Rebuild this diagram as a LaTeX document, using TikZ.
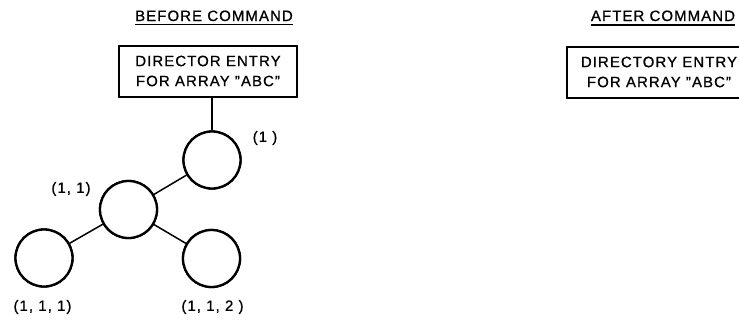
\documentclass[tikz,border=0pt]{standalone}
\usepackage{fontspec}
\setmainfont{Liberation Sans}[LetterSpace=7,FakeBold=0.8]
\usetikzlibrary{calc}
\begin{document}
\begin{tikzpicture}[x=1pt,y=-1pt,
  lbl/.style={inner sep=0pt,font=\fontsize{15}{15}\selectfont},
  ttl/.style={lbl,anchor=base},
  entry/.style={draw,line width=2pt,rectangle,inner sep=0pt,
    minimum height=51pt,align=center,
    font=\fontsize{15}{20}\selectfont},
  elem/.style={draw,circle,line width=2.3pt,minimum size=57pt,inner sep=0pt},
  link/.style={line width=1.5pt},
  uline/.style={line width=1.6pt}]
\clip (0,0) rectangle (739,324);

% left half: tree before the command
\node[ttl] (btitle) at (214,21) {BEFORE COMMAND};
\draw[uline] ($(btitle.base west)+(0,3.5)$) -- ($(btitle.base east)+(0,3.5)$);
\node[entry,minimum width=178pt] (bbox) at (208,71)
  {DIRECTOR ENTRY\\FOR ARRAY "ABC"};

\node[elem] (c1)   at (212,160) {};
\node[elem] (c11)  at (128.5,209.5) {};
\node[elem] (c111) at (44,258) {};
\node[elem] (c112) at (211.5,258.5) {};

\draw[link] (c1.north) -- (c1.north |- bbox.south);
\draw[link] (c11) -- (c1);
\draw[link] (c11) -- (c111);
\draw[link] (c11) -- (c112);
% redraw circles on top of the centre-to-centre links
\foreach \n in {c1,c11,c111,c112}
  \fill[white,draw=black,line width=2.3pt] (\n.center) circle (28.5);

\node[lbl] (l1)   at (265,138) {(1 )};
\node[lbl] (l11)  at (71,189) {(1, 1)};
\node[lbl] (l111) at (42.5,307) {(1, 1, 1)};
\node[lbl] (l112) at (212.5,307) {(1, 1, 2 )};

% right half: directory entry after the command
\node[ttl] (atitle) at (663,21) {AFTER COMMAND};
\draw[uline] ($(atitle.base west)+(0,4)$) -- ($(atitle.base east)+(0,4)$);
\node[entry,minimum width=184pt] (abox) at (659,72)
  {DIRECTORY ENTRY\\FOR ARRAY "ABC"};
\end{tikzpicture}
\end{document}
